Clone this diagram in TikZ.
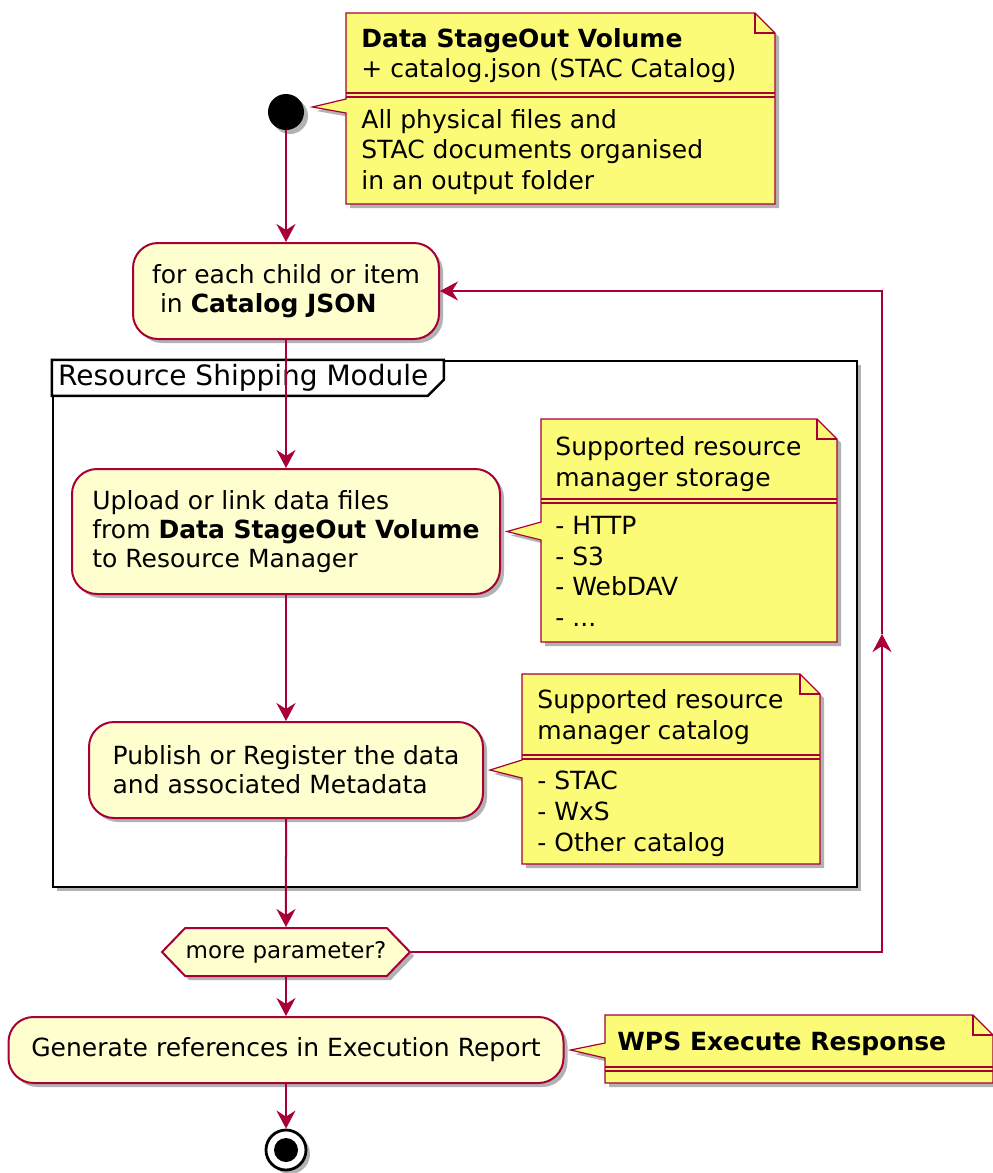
\documentclass[tikz,border=0pt]{standalone}
\usepackage{fontspec}
\setmainfont{DejaVu Sans}
\usetikzlibrary{arrows.meta,shapes.symbols,shadows,calc}
\definecolor{umlred}{HTML}{A80036}
\definecolor{actfill}{HTML}{FEFECE}
\definecolor{notefill}{HTML}{FBFB77}

\tikzset{
  shade/.style={drop shadow={shadow xshift=2pt,shadow yshift=-2pt,opacity=.3,fill=black}},
  act/.style={rectangle, rounded corners=12.5pt, draw=umlred, fill=actfill, line width=1pt,
    align=left, inner sep=0pt, font=\fontsize{12.5}{14.5}\selectfont, shade},
  decision/.style={signal, signal to=west and east, signal pointer angle=92, draw=umlred,
    fill=actfill, line width=1pt, inner sep=0pt, font=\fontsize{11.5}{13}\selectfont, shade},
  flow/.style={umlred, line width=1pt, -{Stealth[length=9pt,width=9.5pt,inset=3pt]}},
  notebox/.style={draw=umlred, fill=notefill, line width=0.6pt, shade},
  noteline/.style={draw=umlred, line width=0.6pt},
  notetxt/.style={anchor=north west, inner sep=0pt, align=left, font=\fontsize{12.5}{15.3}\selectfont},
  frame/.style={draw=black, fill=white, line width=1.2pt, inner sep=0pt, shade}
}

% note outline: x1,y1,x2,y2,tail top,tail bottom,tip
\newcommand{\drawnote}[7]{%
  \filldraw[notebox] (#1,#2) -- ({#3-20},#2) -- (#3,{#2+20}) -- (#3,#4) -- (#1,#4)
    -- (#1,#6) -- (#7) -- (#1,#5) -- cycle;
  \draw[noteline] ({#3-20},#2) -- ({#3-20},{#2+20}) -- (#3,{#2+20});
}
\newcommand{\notesep}[3]{\draw[noteline] (#1,#3) -- (#2,#3) (#1,{#3+4}) -- (#2,{#3+4});}

\begin{document}
\begin{tikzpicture}[x=0.5pt,y=-0.5pt]
\useasboundingbox (0,0) rectangle (992,1173);

% frame
\node[frame, minimum width=402pt, minimum height=263pt] (shipping) at (455,624) {};
\draw[black, line width=1.2pt, fill=white] (shipping.north west) -- ++(392,0) -- ++(0,20)
  -- ++(-16,16) -- ($(shipping.north west)+(0,36)$) -- cycle;
\node[anchor=west, inner sep=0pt, font=\fontsize{14}{16}\selectfont] (shiplabel)
  at ($(shipping.north west)+(6,18)$) {Resource Shipping Module};

% activities
\node[circle, fill=black, minimum size=18pt, inner sep=0pt, shade] (start) at (286,112) {};
\node[act, minimum width=153pt, minimum height=48pt] (loop) at (286,291)
  {for each child or item\\\ in \textbf{Catalog JSON}};
\node[act, minimum width=214pt, minimum height=62.5pt] (upload) at (286,531.5)
  {Upload or link data files\\from \textbf{Data StageOut Volume}\\to Resource Manager};
\node[act, minimum width=197pt, minimum height=48pt] (publish) at (286,770)
  {Publish or Register the data\\and associated Metadata};
\node[decision, minimum width=124pt, minimum height=24pt] (more) at (286,952) {more parameter?};
\node[act, minimum width=277.5pt, minimum height=33pt] (gen) at (286,1050)
  {Generate references in Execution Report};
\node[circle, draw=black, line width=1.4pt, fill=white, minimum size=20pt, inner sep=0pt, shade]
  (stop) at (286,1150) {};
\node[circle, fill=black, minimum size=12pt, inner sep=0pt] (stopdot) at (stop) {};

% notes
\coordinate (tipa) at ($(start.east)+(8,-5)$);
\drawnote{346}{13}{775}{204}{99}{113}{tipa}
\notesep{346}{775}{93}
\node[notetxt] (notea) at (361,28) {\textbf{Data StageOut Volume}\\+ catalog.json (STAC Catalog)};
\node[notetxt] (noteb) at (361,109) {All physical files and\\STAC documents organised\\in an output folder};

\coordinate (tipb) at ($(upload.east)+(6,0)$);
\drawnote{541}{419}{837}{642}{522}{540}{tipb}
\notesep{541}{837}{499}
\node[notetxt] (storage) at (555,436) {Supported resource\\manager storage};
\node[notetxt] (storagelist) at (555,516) {- HTTP\\- S3\\- WebDAV\\- ...};

\coordinate (tipc) at ($(publish.east)+(6,0)$);
\drawnote{522}{674}{820}{864}{760}{778}{tipc}
\notesep{522}{820}{755}
\node[notetxt] (catalog) at (537,689) {Supported resource\\manager catalog};
\node[notetxt] (cataloglist) at (537,771) {- STAC\\- WxS\\- Other catalog};

\coordinate (tipd) at ($(gen.east)+(6,0)$);
\drawnote{605}{1015}{993}{1083}{1043}{1058}{tipd}
\notesep{605}{993}{1067}
\node[notetxt] (wps) at (617,1032) {\textbf{WPS Execute Response}};

% flow
\draw[flow] (start) -- (loop);
\draw[flow] (loop) -- (upload);
\draw[flow] (upload) -- (publish);
\draw[flow] (publish) -- (more);
\draw[flow] (more) -- (gen);
\draw[flow] (gen) -- (stop);
\coordinate (turn) at (882,634);
\draw[flow] (more.east) -| (turn);
\draw[flow] (turn) |- (loop.east);
\end{tikzpicture}
\end{document}
